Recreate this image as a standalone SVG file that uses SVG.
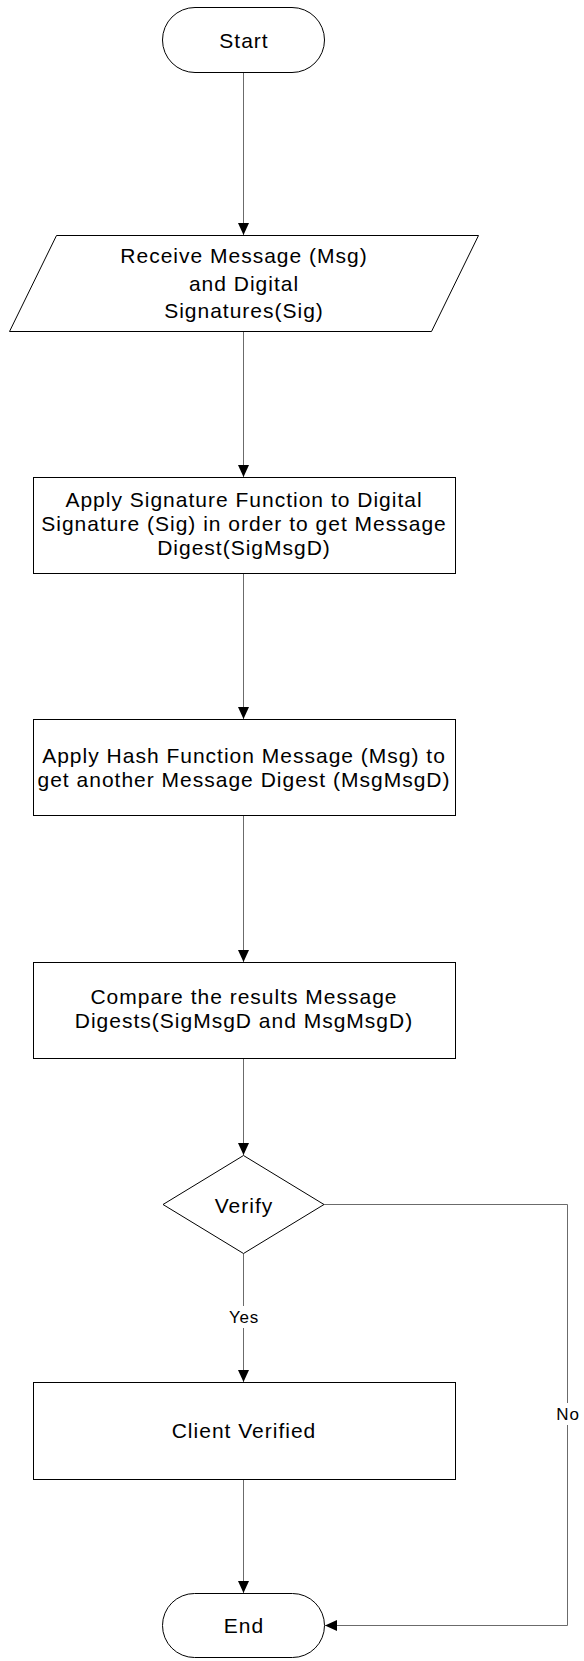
<svg xmlns="http://www.w3.org/2000/svg" width="584" height="1661" viewBox="0 0 584 1661">
  <defs>
    <marker id="arrow" markerUnits="userSpaceOnUse" markerWidth="12" markerHeight="11" refX="12" refY="5.5" orient="auto">
      <path d="M0,0 L12,5.5 L0,11 Z" fill="#000"/>
    </marker>
    <style>
      .shape { fill: #fff; stroke: #000; stroke-width: 1; }
      .conn { fill: none; stroke: #6b6b6b; stroke-width: 1; }
      .txt { font-family: "Liberation Sans", Arial, sans-serif; font-size: 21px; letter-spacing: 1px; fill: #000; text-anchor: middle; }
      .lbl { font-family: "Liberation Sans", Arial, sans-serif; font-size: 17px; letter-spacing: 0.8px; fill: #000; text-anchor: middle; }
      .lblbg { fill: #fff; stroke: none; }
    </style>
  </defs>
  <rect width="584" height="1661" fill="#fff"/>

  <!-- connectors -->
  <g id="connectors">
    <line class="conn" x1="243.5" y1="72.5" x2="243.5" y2="235" marker-end="url(#arrow)"/>
    <line class="conn" x1="243.5" y1="331.5" x2="243.5" y2="477" marker-end="url(#arrow)"/>
    <line class="conn" x1="243.5" y1="573.5" x2="243.5" y2="719" marker-end="url(#arrow)"/>
    <line class="conn" x1="243.5" y1="815.5" x2="243.5" y2="962" marker-end="url(#arrow)"/>
    <line class="conn" x1="243.5" y1="1058.5" x2="243.5" y2="1155" marker-end="url(#arrow)"/>
    <line class="conn" x1="243.5" y1="1254" x2="243.5" y2="1382" marker-end="url(#arrow)"/>
    <line class="conn" x1="243.5" y1="1479.5" x2="243.5" y2="1593" marker-end="url(#arrow)"/>
    <polyline class="conn" points="324,1204.5 567.5,1204.5 567.5,1625.5 325,1625.5" marker-end="url(#arrow)"/>
    <g id="label-yes">
      <rect class="lblbg" x="228" y="1306" width="31" height="22"/>
      <text class="lbl" x="244" y="1322.5">Yes</text>
    </g>
    <g id="label-no">
      <rect class="lblbg" x="555" y="1403" width="26" height="22"/>
      <text class="lbl" x="568" y="1419.5">No</text>
    </g>
  </g>

  <g id="start">
    <rect class="shape" x="162.5" y="7.5" width="162" height="65" rx="32.5" ry="32.5"/>
    <text class="txt" x="244" y="47.5">Start</text>
  </g>

  <g id="receive">
    <polygon class="shape" points="56.5,235.5 478.5,235.5 431.5,331.5 9.5,331.5"/>
    <text class="txt" x="244" y="263">Receive Message (Msg)</text>
    <text class="txt" x="244" y="290.5">and Digital</text>
    <text class="txt" x="244" y="318">Signatures(Sig)</text>
  </g>

  <g id="apply-signature">
    <rect class="shape" x="33.5" y="477.5" width="422" height="96"/>
    <text class="txt" x="244" y="506.5">Apply Signature Function to Digital</text>
    <text class="txt" x="244" y="530.5">Signature (Sig) in order to get Message</text>
    <text class="txt" x="244" y="554.5">Digest(SigMsgD)</text>
  </g>

  <g id="apply-hash">
    <rect class="shape" x="33.5" y="719.5" width="422" height="96"/>
    <text class="txt" x="244" y="763">Apply Hash Function Message (Msg) to</text>
    <text class="txt" x="244" y="787">get another Message Digest (MsgMsgD)</text>
  </g>

  <g id="compare">
    <rect class="shape" x="33.5" y="962.5" width="422" height="96"/>
    <text class="txt" x="244" y="1004">Compare the results Message</text>
    <text class="txt" x="244" y="1028">Digests(SigMsgD and MsgMsgD)</text>
  </g>

  <g id="verify">
    <polygon class="shape" points="243.5,1155.5 324,1204.5 243.5,1253.5 163,1204.5"/>
    <text class="txt" x="244" y="1213">Verify</text>
  </g>

  <g id="client-verified">
    <rect class="shape" x="33.5" y="1382.5" width="422" height="97"/>
    <text class="txt" x="244" y="1438">Client Verified</text>
  </g>

  <g id="end">
    <rect class="shape" x="162.5" y="1593.5" width="162" height="64" rx="32" ry="32"/>
    <text class="txt" x="244" y="1632.5">End</text>
  </g>
</svg>
